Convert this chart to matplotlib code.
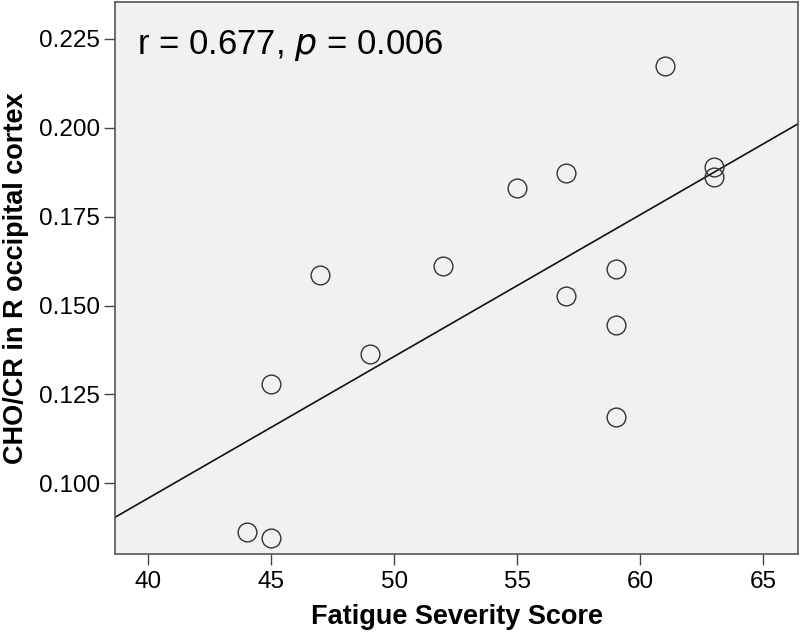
import numpy as np
import matplotlib
matplotlib.use("Agg")
import matplotlib.pyplot as plt

plt.rcParams['font.family'] = ['Liberation Sans', 'DejaVu Sans']

fatigue = [44, 45, 45, 47, 49, 52, 55, 57, 57, 59, 59, 59, 61, 63, 63]
cho_cr = [0.0863, 0.0846, 0.1279, 0.1586, 0.1365, 0.1611, 0.1831, 0.1874,
          0.1528, 0.1602, 0.1444, 0.1187, 0.2175, 0.1890, 0.1863]
x_ticks = [40, 45, 50, 55, 60, 65]
y_ticks = [0.100, 0.125, 0.150, 0.175, 0.200, 0.225]
y_tick_labels = ["0.100", "0.125", "0.150", "0.175", "0.200", "0.225"]
annotation = "r = 0.677, $\\it{p}$ = 0.006"

fig = plt.figure(figsize=(8, 6.4), dpi=100)
ax = fig.add_axes([0.1438, 0.1344, 0.8537, 0.8625])
ax.set_facecolor('#f1f1f1')

xlim = (38.65, 66.41)
ylim = (0.0801, 0.2354)

slope, intercept = np.polyfit(fatigue, cho_cr, 1)
xs = np.array(xlim)
ax.plot(xs, slope * xs + intercept, color='#111111', lw=1.2, zorder=2)

ax.plot(fatigue, cho_cr, linestyle='none', marker='o', markersize=13.5,
        markerfacecolor='none', markeredgecolor='#333333', markeredgewidth=1.0,
        zorder=3)

ax.set_xlim(*xlim)
ax.set_ylim(*ylim)
ax.set_xticks(x_ticks)
ax.set_yticks(y_ticks)
ax.set_yticklabels(y_tick_labels)
ax.tick_params(axis='both', direction='out', length=8, width=1,
               color='#444444', labelsize=17.5, labelcolor='black')
ax.tick_params(axis='x', pad=4)
ax.tick_params(axis='y', pad=3)
for s in ax.spines.values():
    s.set_color('#555555')
    s.set_linewidth(1.2)

ax.set_xlabel('Fatigue Severity Score', fontsize=19.5, fontweight='bold', labelpad=8)
ax.set_ylabel('CHO/CR in R occipital cortex', fontsize=19.5, fontweight='bold', labelpad=7)

ax.text(0.032, 0.922, annotation, transform=ax.transAxes, fontsize=25,
        ha='left', va='center', color='black')

fig.savefig('out.png', dpi=100)
